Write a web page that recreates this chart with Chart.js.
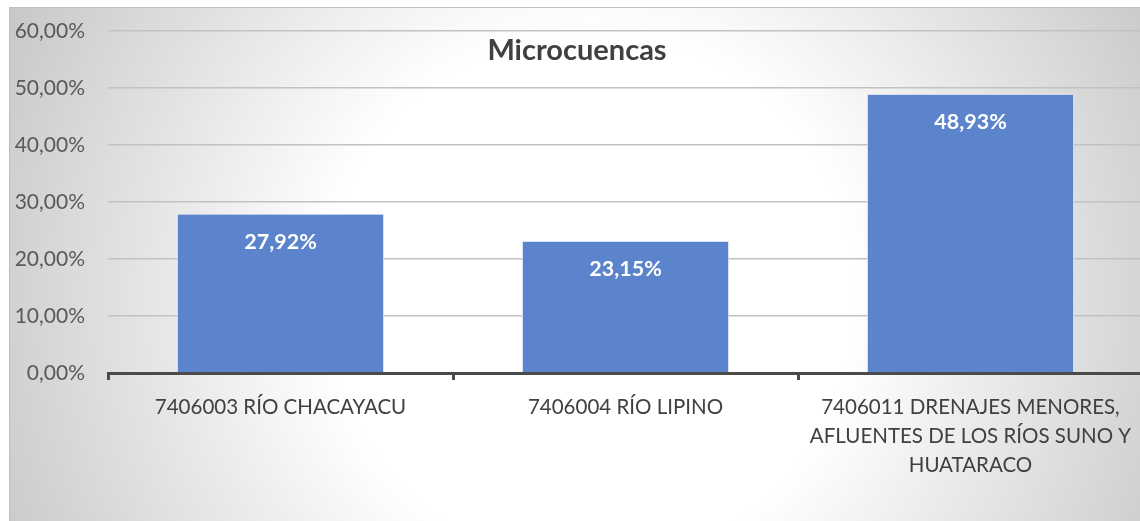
<!DOCTYPE html>
<html>
<head>
<meta charset="utf-8">
<script src="https://cdn.jsdelivr.net/npm/chart.js@4.4.1/dist/chart.umd.min.js"></script>
<style>
    html, body { margin: 0; padding: 0; background: #fff; overflow: hidden; width: 1140px; height: 521px; }
    #frame { position: absolute; left: 9px; top: 7px; width: 1150px; height: 514px; border-left: 1px solid #bfbfbf; border-top: 1px solid #bfbfbf; }
    #chart { display: block; }
</style>
</head>
<body>
<div id="frame"><canvas id="chart" width="1150" height="514"></canvas></div>
<script>
const titleText = 'Microcuencas';
const categories = [
    '7406003 RÍO CHACAYACU',
    '7406004 RÍO LIPINO',
    ['7406011 DRENAJES MENORES,', 'AFLUENTES DE LOS RÍOS SUNO Y', 'HUATARACO']
];
const shares = [27.92, 23.15, 48.93];
const yTicks = [0, 10, 20, 30, 40, 50, 60];

function pct(v) {
    return v.toFixed(2).replace('.', ',') + '%';
}

const backgroundPlugin = {
    id: 'bg',
    beforeDraw(chart) {
        const ctx = chart.ctx;
        const g = ctx.createRadialGradient(580, 290, 0, 580, 290, 660);
        g.addColorStop(0, '#ffffff');
        g.addColorStop(0.4, '#ffffff');
        g.addColorStop(1, '#c6c6c6');
        ctx.save();
        ctx.fillStyle = g;
        ctx.fillRect(0, 0, chart.width, chart.height);
        ctx.restore();
    }
};

const labelPlugin = {
    id: 'labels',
    afterDraw(chart) {
        const ctx = chart.ctx;
        ctx.save();
        // title sits inside the plot area, like the original
        ctx.font = 'bold 29px Lato';
        ctx.fillStyle = '#404040';
        ctx.textAlign = 'center';
        ctx.textBaseline = 'middle';
        ctx.fillText(titleText, 567, 43);

        ctx.font = 'bold 21.5px Lato';
        ctx.fillStyle = '#ffffff';
        chart.getDatasetMeta(0).data.forEach((bar, i) => {
            ctx.fillText(pct(shares[i]), bar.x, bar.y + 28);
        });
        ctx.restore();
    }
};

new Chart(document.getElementById('chart'), {
    type: 'bar',
    data: {
        labels: categories,
        datasets: [{
            data: shares,
            backgroundColor: '#5b84cc',
            borderColor: 'rgba(200,215,240,0.7)',
            borderWidth: 1,
            barPercentage: 0.6,
            categoryPercentage: 1
        }]
    },
    options: {
        responsive: false,
        animation: false,
        layout: { padding: { top: 23, right: 17, left: 0, bottom: 0 } },
        plugins: {
            legend: { display: false },
            tooltip: { enabled: false },
            title: { display: false }
        },
        scales: {
            x: {
                afterFit(scale) { scale.height = 149; },
                grid: {
                    offset: true,
                    drawOnChartArea: false,
                    drawTicks: true,
                    tickLength: 7,
                    tickWidth: 3,
                    tickColor: '#4a4a4a'
                },
                border: { display: true, color: '#4a4a4a', width: 3 },
                ticks: {
                    color: '#404040',
                    font: { family: 'Lato', size: 20.5, lineHeight: 1.42 },
                    padding: 13,
                    maxRotation: 0,
                    autoSkip: false
                }
            },
            y: {
                min: 0,
                max: 60,
                afterFit(scale) { scale.width = 98; },
                afterBuildTicks(scale) { scale.ticks = yTicks.map(v => ({ value: v })); },
                grid: { color: '#c2c2c2', lineWidth: 1.5, drawTicks: true, tickLength: 20, tickColor: 'rgba(0,0,0,0)' },
                border: { display: false },
                ticks: {
                    color: '#595959',
                    font: { family: 'Lato', size: 21 },
                    padding: 3,
                    callback: v => pct(v)
                }
            }
        }
    },
    plugins: [backgroundPlugin, labelPlugin]
});
</script>
</body>
</html>
